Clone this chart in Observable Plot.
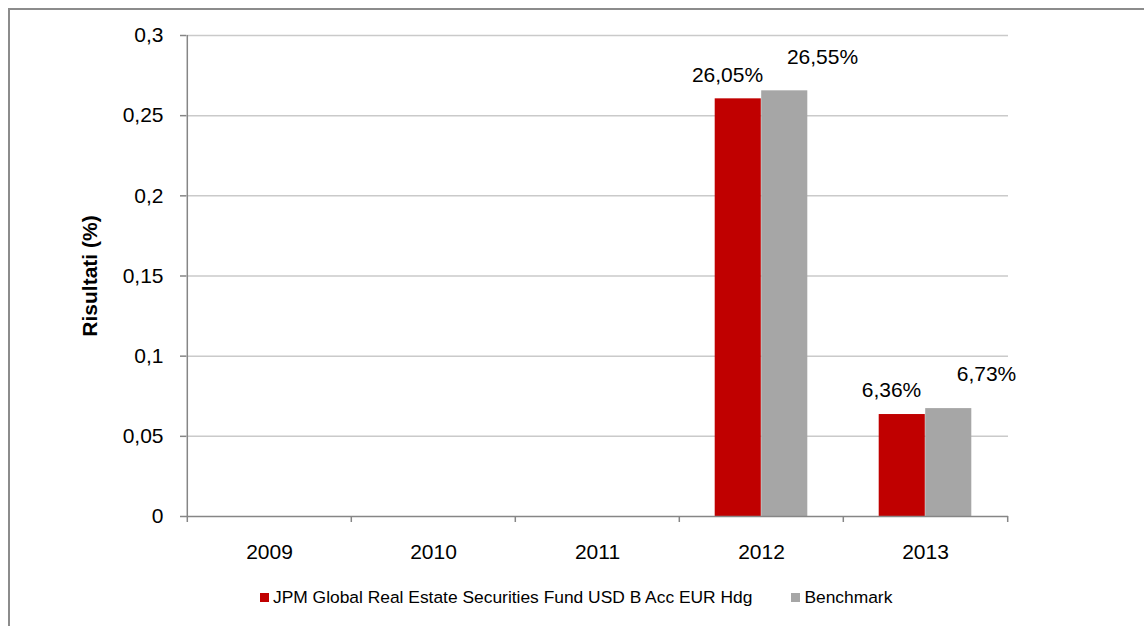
<!DOCTYPE html>
<html><head><meta charset="utf-8">
<script src="https://cdn.jsdelivr.net/npm/d3@7"></script>
<script src="https://cdn.jsdelivr.net/npm/@observablehq/plot@0.6"></script>
<style>
html,body{margin:0;padding:0;background:#fff;overflow:hidden;width:1144px;height:626px;font-family:"Liberation Sans",Arial,sans-serif;}
#frame{position:absolute;left:8px;top:8px;width:1300px;height:800px;border:2px solid #8c8c8c;box-sizing:border-box;}
#chart{position:absolute;left:0;top:0;}
#legend{position:absolute;left:260px;top:585px;height:24px;display:flex;align-items:center;font-size:17.4px;color:#000;white-space:nowrap;}
.item{display:flex;align-items:center;margin-right:39px;}
.sw{width:9px;height:9px;margin-right:4px;}
</style></head>
<body>
<div id="frame"></div>
<div id="chart"></div>
<div id="legend"></div>
<script>
const years = ["2009", "2010", "2011", "2012", "2013"];
const fundValues = [null, null, null, 0.2605, 0.0636];
const benchValues = [null, null, null, 0.2655, 0.0673];
const yTicks = [0, 0.05, 0.1, 0.15, 0.2, 0.25, 0.3];
const seriesNames = ["JPM Global Real Estate Securities Fund USD B Acc EUR Hdg", "Benchmark"];
const seriesColors = ["#C00000", "#A6A6A6"];

const W = 1144, H = 570, mL = 186, mR = 136, mT = 35, mB = 54;
const bw = (W - mL - mR) / years.length;
const barW = 46.5;

const fund = years.map((y, i) => ({year: y, value: fundValues[i]})).filter(d => d.value != null);
const bench = years.map((y, i) => ({year: y, value: benchValues[i]})).filter(d => d.value != null);
const fmtPct = v => (v * 100).toFixed(2).replace(".", ",") + "%";
const fmtTick = v => String(v).replace(".", ",");

const chart = Plot.plot({
  width: W, height: H,
  marginLeft: mL, marginRight: mR, marginTop: mT, marginBottom: mB,
  style: {fontFamily: "'Liberation Sans', Arial, sans-serif", fontSize: "21px", color: "#000", background: "transparent"},
  x: {type: "band", domain: years, padding: 0},
  y: {domain: [0, 0.3]},
  marks: [
    Plot.ruleY(yTicks.filter(t => t > 0), {stroke: "#cacaca", strokeWidth: 1.5}),
    Plot.barY(fund, {x: "year", y: "value", fill: seriesColors[0], insetLeft: bw / 2 - barW, insetRight: bw / 2}),
    Plot.barY(bench, {x: "year", y: "value", fill: seriesColors[1], insetLeft: bw / 2, insetRight: bw / 2 - barW}),
    Plot.ruleY([0], {stroke: "#868686", strokeWidth: 1.5}),
    Plot.ruleX([years[0]], {y1: 0, y2: 0.3, dx: -bw / 2, stroke: "#868686", strokeWidth: 1.5}),
    Plot.ruleX(years, {y1: 0, y2: 0, insetBottom: -6, dx: -bw / 2, stroke: "#868686", strokeWidth: 1.5}),
    Plot.ruleX([years[years.length - 1]], {y1: 0, y2: 0, insetBottom: -6, dx: bw / 2, stroke: "#868686", strokeWidth: 1.5}),
    Plot.text(fund, {x: "year", y: "value", text: d => fmtPct(d.value), dx: -34, dy: -24, fill: "#000", fontSize: 21}),
    Plot.text(bench, {x: "year", y: "value", text: d => fmtPct(d.value), dx: 61, dy: -34, fill: "#000", fontSize: 21}),
    Plot.axisY({ticks: yTicks, tickFormat: fmtTick, tickSize: 6, tickPadding: 17, stroke: "#868686", strokeWidth: 1.5,
      label: "Risultati (%)", labelAnchor: "center", labelOffset: 104, labelArrow: "none"}),
    Plot.axisX({tickSize: 0, tickPadding: 28, label: null})
  ]
});
chart.querySelectorAll("text").forEach(t => { if (t.textContent === "Risultati (%)") t.setAttribute("font-weight", "bold"); });
document.getElementById("chart").appendChild(chart);

const legend = document.getElementById("legend");
seriesNames.forEach((name, i) => {
  const it = document.createElement("div");
  it.className = "item";
  const sw = document.createElement("div");
  sw.className = "sw";
  sw.style.background = seriesColors[i];
  const tx = document.createElement("span");
  tx.textContent = name;
  it.appendChild(sw); it.appendChild(tx);
  legend.appendChild(it);
});
</script>
</body></html>
